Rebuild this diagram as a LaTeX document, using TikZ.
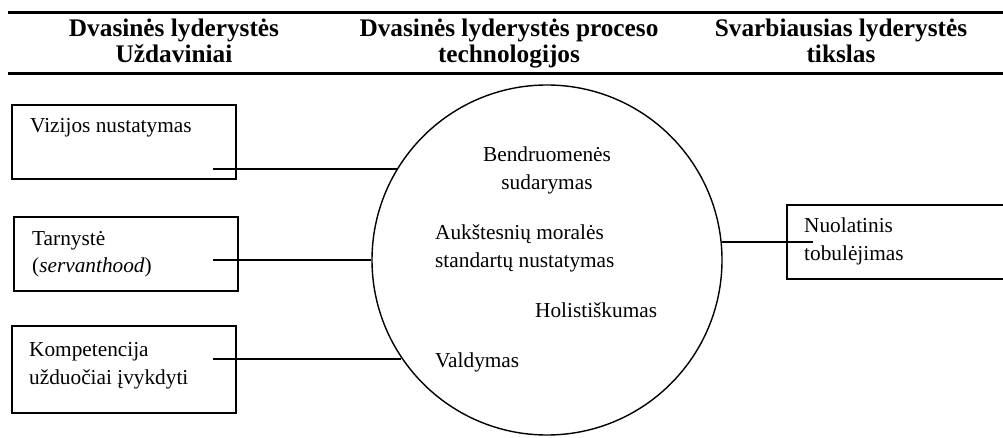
\documentclass[tikz,border=0pt]{standalone}
\usepackage{fontspec}
\setmainfont{Liberation Serif}
\newcommand{\bodysize}{\fontsize{21.3}{28}\selectfont}
\newcommand{\headsize}{\fontsize{25.3}{26}\selectfont\bfseries}
\newcommand{\lleft}[1]{\begin{tabular}[t]{@{}l@{}}#1\end{tabular}}
\newcommand{\lcenter}[1]{\begin{tabular}[t]{@{}c@{}}#1\end{tabular}}
\begin{document}
\begin{tikzpicture}[x=1pt,y=-1pt,
  taskbox/.style={draw,line width=1.5pt,rectangle,inner sep=0pt},
  bodytext/.style={font=\bodysize,inner sep=0pt,anchor=base west},
  headtext/.style={font=\headsize,inner sep=0pt,anchor=base},
  rule/.style={line width=3pt},
  link/.style={line width=1.3pt}]
\useasboundingbox (0,0) rectangle (1003,438);

% header rules
\coordinate (rtl) at (8,13);
\coordinate (rtr) at (1003,13);
\coordinate (rbl) at (8,74);
\coordinate (rbr) at (1003,74);
\draw[rule] (rtl) -- (rtr);
\draw[rule] (rbl) -- (rbr);

% column headings
\node[headtext] (h1) at (174,37) {\lcenter{Dvasinės lyderystės\\Uždaviniai}};
\node[headtext] (h2) at (509,37) {\lcenter{Dvasinės lyderystės proceso\\technologijos}};
\node[headtext] (h3) at (841,37) {\lcenter{Svarbiausias lyderystės\\tikslas}};

% task boxes
\node[taskbox,minimum width=224pt,minimum height=74pt] (b1) at (124,142) {};
\node[taskbox,minimum width=224pt,minimum height=74pt] (b2) at (126,254) {};
\node[taskbox,minimum width=224pt,minimum height=87pt] (b3) at (124,369.5) {};
\node[taskbox,minimum width=223pt,minimum height=74pt] (b4) at (898.5,242) {};

\node[bodytext] (t1) at (30,133) {\lleft{Vizijos nustatymas}};
\node[bodytext] (t2) at (32,245) {\lleft{Tarnystė\\(\textit{servanthood})}};
\node[bodytext] (t3) at (29,356) {\lleft{Kompetencija\\užduočiai įvykdyti}};
\node[bodytext] (t4) at (804,233) {\lleft{Nuolatinis\\tobulėjimas}};

% central circle
\node[draw,circle,line width=1.4pt,minimum size=350pt,inner sep=0pt] (circ) at (547,260) {};
\node[bodytext,anchor=base] (c1) at (547,162) {\lcenter{Bendruomenės\\sudarymas}};
\node[bodytext] (c2) at (435,240) {\lleft{Aukštesnių moralės\\standartų nustatymas}};
\node[bodytext] (c3) at (535,317) {\lleft{Holistiškumas}};
\node[bodytext] (c4) at (435,367) {\lleft{Valdymas}};

% connectors
\coordinate (s1) at (213,169);
\coordinate (s2) at (213,260);
\coordinate (s3) at (213,359);
\coordinate (s4) at (813,242);
\draw[link] (s1) -- (s1 -| circ.148.7);
\draw[link] (s2) -- (s2 -| circ.180);
\draw[link] (s3) -- (s3 -| circ.214.5);
\draw[link] (s4) -- (s4 -| circ.5.9);
\end{tikzpicture}
\end{document}
